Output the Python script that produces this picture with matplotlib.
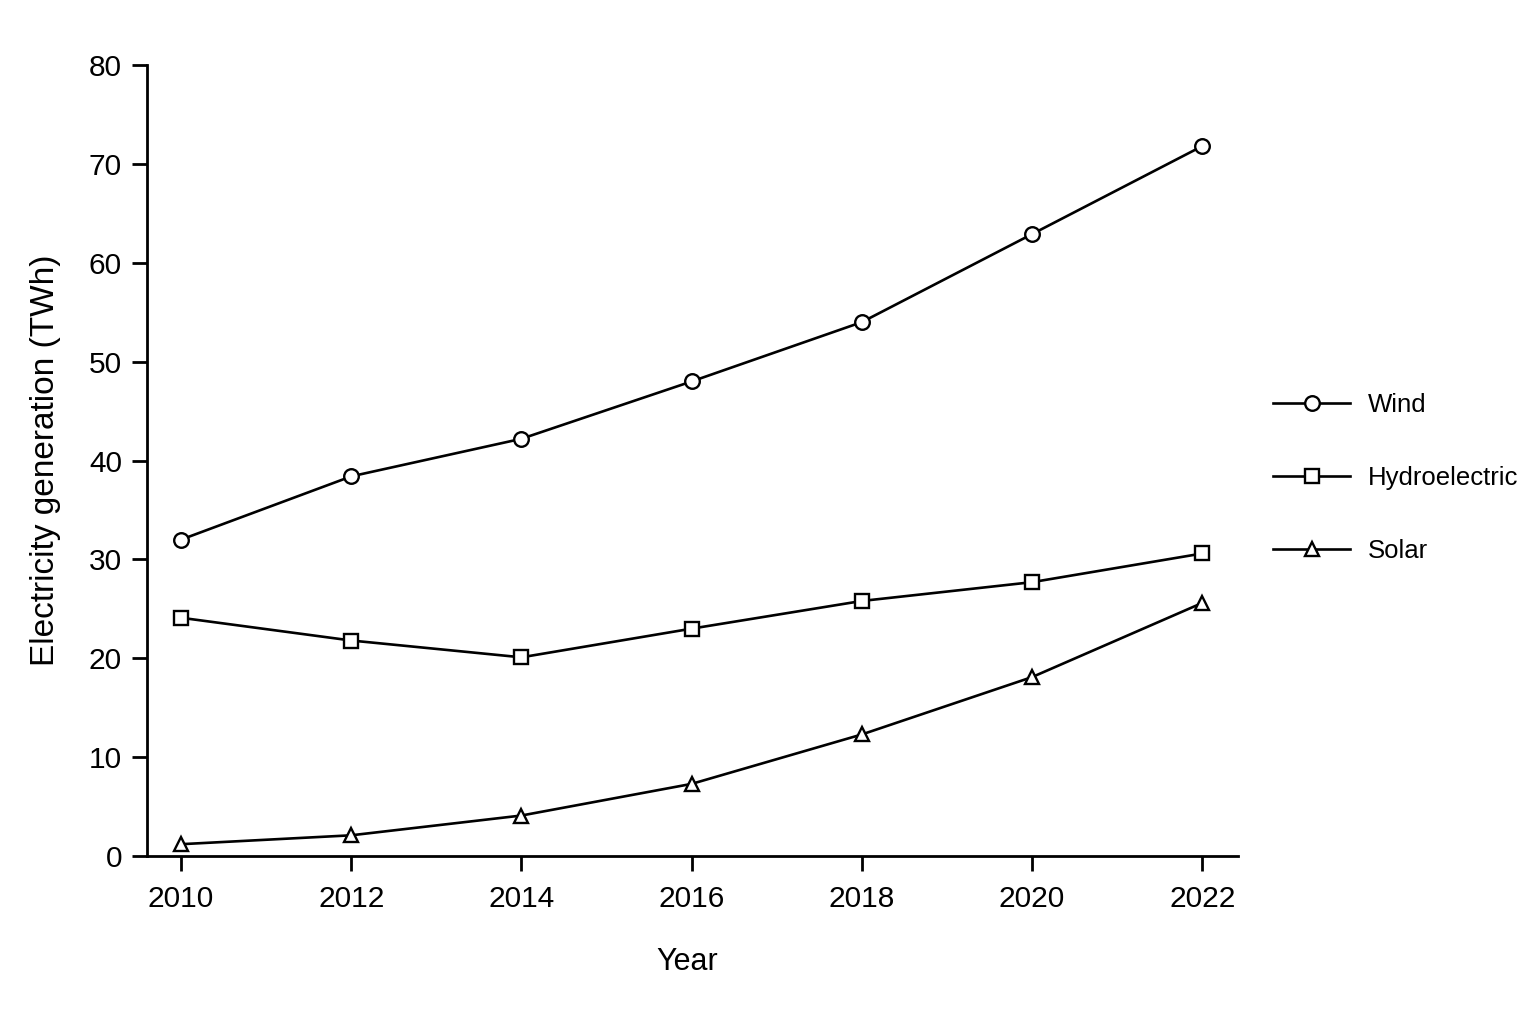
import matplotlib
matplotlib.use("Agg")
import matplotlib.pyplot as plt

plt.rcParams['font.family'] = ['Liberation Sans', 'DejaVu Sans']

years = [2010, 2012, 2014, 2016, 2018, 2020, 2022]
wind = [32.0, 38.4, 42.2, 48.0, 54.0, 62.9, 71.8]
hydro = [24.1, 21.8, 20.1, 23.0, 25.8, 27.7, 30.6]
solar = [1.2, 2.1, 4.1, 7.3, 12.3, 18.1, 25.6]

fig = plt.figure(figsize=(15.36, 10.24), dpi=100)
ax = fig.add_axes([0.0957, 0.164, 0.7103, 0.7725])

style = dict(color='black', linewidth=1.9, markersize=10.5,
             markerfacecolor='white', markeredgecolor='black', markeredgewidth=1.7)
ax.plot(years, wind, marker='o', label='Wind', **style)
ax.plot(years, hydro, marker='s', label='Hydroelectric', **style)
ax.plot(years, solar, marker='^', label='Solar', **style)

ax.set_xlim(2009.6, 2022.42)
ax.set_ylim(0, 80)
ax.set_xticks(years)
ax.set_yticks(range(0, 81, 10))

for side in ['top', 'right']:
    ax.spines[side].set_visible(False)
for side in ['left', 'bottom']:
    ax.spines[side].set_linewidth(2.0)

ax.tick_params(direction='out', length=11, width=2.0, labelsize=21.5)
ax.tick_params(axis='x', pad=10)
ax.tick_params(axis='y', pad=7)

ax.set_xlabel('Year', fontsize=22, labelpad=22)
ax.xaxis.set_label_coords(0.495, -0.115)
ax.set_ylabel('Electricity generation (TWh)', fontsize=24, labelpad=20)

fig.legend(loc='center left', bbox_to_anchor=(0.8288, 0.533), frameon=False,
           fontsize=18.5, handlelength=3.0, handletextpad=0.7, labelspacing=1.9,
           borderpad=0, borderaxespad=0)

fig.savefig('out.png', dpi=100, facecolor='white')
